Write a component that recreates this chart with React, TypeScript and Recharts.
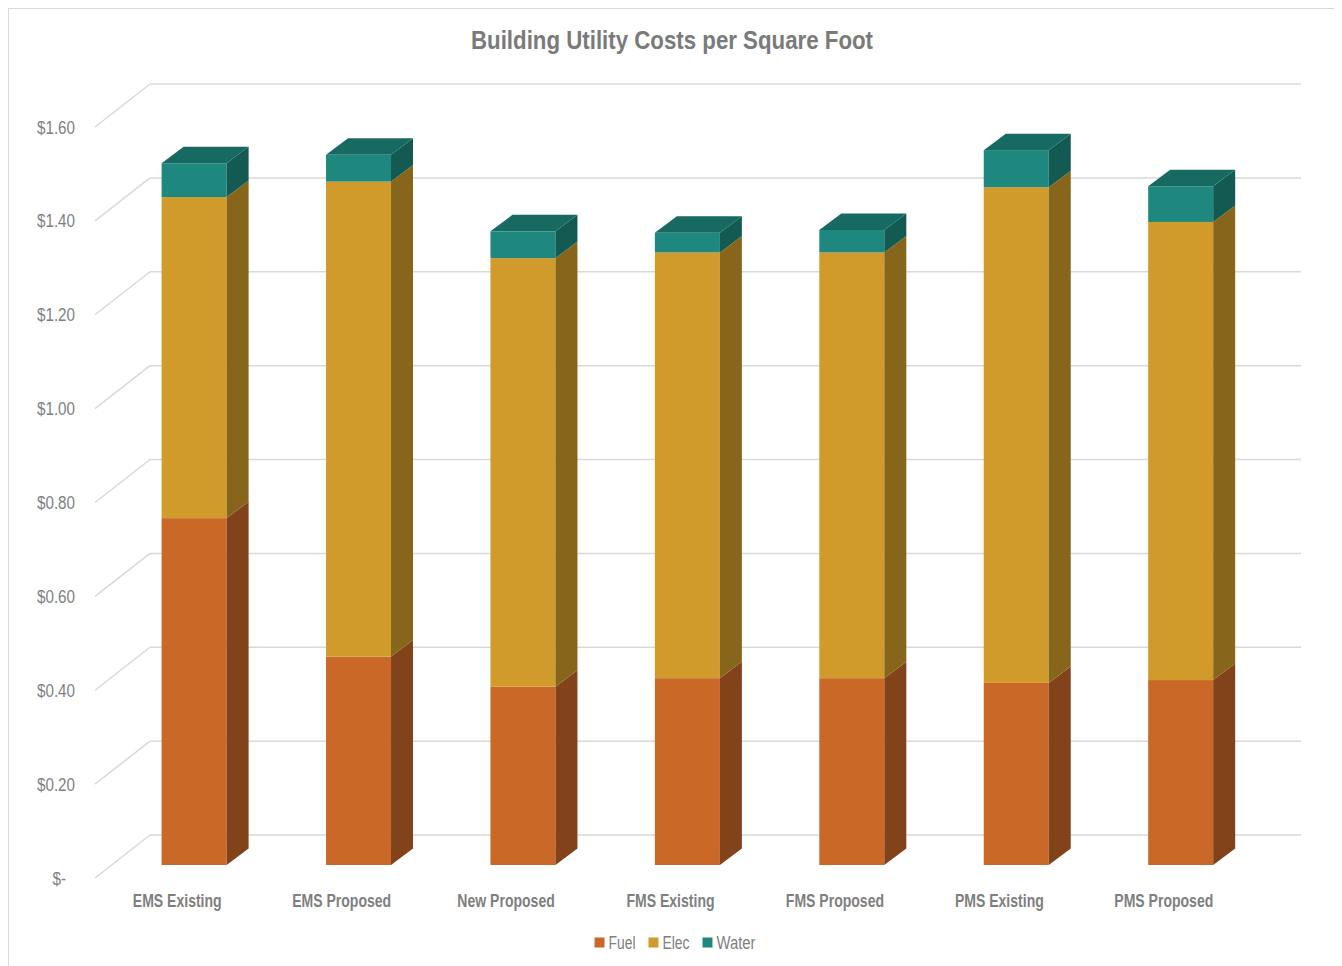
import React from "react";
import { BarChart, Bar, XAxis, YAxis, CartesianGrid, Legend } from "recharts";

const categories = ["EMS Existing", "EMS Proposed", "New Proposed", "FMS Existing", "FMS Proposed", "PMS Existing", "PMS Proposed"];
const fuel = [0.739, 0.444, 0.38, 0.398, 0.398, 0.388, 0.394];
const elec = [0.684, 1.012, 0.913, 0.907, 0.907, 1.056, 0.976];
const water = [0.072, 0.057, 0.057, 0.042, 0.048, 0.079, 0.076];
const yTicks = [0, 0.2, 0.4, 0.6, 0.8, 1.0, 1.2, 1.4, 1.6];
const seriesNames = ["Fuel", "Elec", "Water"];

const data = categories.map((name, i) => ({ name, Fuel: fuel[i], Elec: elec[i], Water: water[i] }));

const FONT = "'Liberation Sans', Arial, sans-serif";
const GRAY = "#7f7f7f";
const NARROW = 0.8; // squeeze Liberation Sans into an Arial Narrow look

// oblique projection offsets
const WALL_DX = 55;
const WALL_DY = -43;
const FRONT_DX = 16.6;
const FRONT_DY = -13;
const SIDE_DX = 22;
const SIDE_DY = -16.5;

const colors: Record<string, { front: string; side: string; top: string }> = {
  Fuel: { front: "#ca6828", side: "#82421a", top: "#a85520" },
  Elec: { front: "#d09b2a", side: "#87661b", top: "#a57b20" },
  Water: { front: "#1e887e", side: "#125a52", top: "#176a61" },
};

const makeShape = (key: string, withTop: boolean) => (props: any) => {
  const { x, y, width, height } = props;
  if (!height || height <= 0) return <g />;
  const c = colors[key];
  const fx = x + FRONT_DX;
  const fy = y + FRONT_DY;
  const r = fx + width;
  const side = `${r},${fy} ${r + SIDE_DX},${fy + SIDE_DY} ${r + SIDE_DX},${fy + height + SIDE_DY} ${r},${fy + height}`;
  const top = `${fx},${fy} ${fx + SIDE_DX},${fy + SIDE_DY} ${r + SIDE_DX},${fy + SIDE_DY} ${r},${fy}`;
  return (
    <g>
      <rect x={fx} y={fy} width={width} height={height} fill={c.front} />
      <polygon points={side} fill={c.side} />
      {withTop && <polygon points={top} fill={c.top} />}
    </g>
  );
};

const gridLine = (props: any) => {
  const { x1, y1, x2, index } = props;
  return (
    <g key={`grid-${index}-${y1}`}>
      <line x1={x1} y1={y1} x2={x1 + WALL_DX} y2={y1 + WALL_DY} stroke="#d9d9d9" strokeWidth={1.5} />
      <line x1={x1 + WALL_DX} y1={y1 + WALL_DY} x2={x2 + WALL_DX} y2={y1 + WALL_DY} stroke="#d9d9d9" strokeWidth={1.5} />
    </g>
  );
};

const YTick = (props: any) => {
  const { x, y, payload } = props;
  const v = payload.value as number;
  const label = v === 0 ? "$-" : `$${v.toFixed(2)}`;
  const ax = v === 0 ? x - 9 : x;
  return (
    <text transform={`translate(${ax},${y + 6.5}) scale(${NARROW},1)`} textAnchor="end" fill={GRAY} fontSize={19} fontFamily={FONT}>
      {label}
    </text>
  );
};

const XTick = (props: any) => {
  const { x, y, payload } = props;
  return (
    <text transform={`translate(${x},${y + 13}) scale(${NARROW - 0.02},1)`} textAnchor="middle" fill={GRAY} fontSize={18} fontWeight="bold" fontFamily={FONT}>
      {payload.value}
    </text>
  );
};

const legendTextWidth: Record<string, number> = { Fuel: 27, Elec: 27, Water: 39 };

const LegendContent = () => {
  const widths = seriesNames.map((n) => 14 + legendTextWidth[n]);
  const total = widths.reduce((a, b) => a + b, 0) + 13 * (seriesNames.length - 1);
  let cx = 1326 / 2 + 3 - total / 2;
  return (
    <svg width={1326} height={29} style={{ display: "block" }}>
      {seriesNames.map((n, i) => {
        const x0 = cx;
        cx += widths[i] + 13;
        return (
          <g key={n}>
            <rect x={x0} y={9.5} width={10} height={10} fill={colors[n].front} />
            <text
              x={x0 + 14}
              y={21}
              fill={GRAY}
              fontSize={18}
              fontFamily={FONT}
              textLength={legendTextWidth[n]}
              lengthAdjust="spacingAndGlyphs"
            >
              {n}
            </text>
          </g>
        );
      })}
    </svg>
  );
};

export default function App() {
  return (
    <div style={{ position: "relative", width: 1326, height: 958, border: "1px solid #d9d9d9", background: "#fff", fontFamily: FONT }}>
      <svg width={1326} height={60} style={{ position: "absolute", top: 0, left: 0 }}>
        <text x={663} y={40} textAnchor="middle" fill="#7a7a7a" fontSize={26} fontWeight="bold" fontFamily={FONT} textLength={402} lengthAdjust="spacingAndGlyphs">
          Building Utility Costs per Square Foot
        </text>
      </svg>
      <BarChart width={1326} height={958} data={data} margin={{ top: 118, right: 89, left: 0, bottom: 10 }} barSize={65}>
        <CartesianGrid vertical={false} horizontal={gridLine} />
        <XAxis dataKey="name" axisLine={false} tickLine={false} tickSize={0} tickMargin={16} height={50} interval={0} tick={<XTick />} />
        <YAxis width={86} domain={[0, 1.6]} ticks={yTicks} axisLine={false} tickLine={false} tickSize={0} tickMargin={20} tick={<YTick />} />
        <Legend verticalAlign="bottom" wrapperStyle={{ height: 29 }} content={<LegendContent />} />
        <Bar dataKey="Fuel" stackId="a" fill={colors.Fuel.front} shape={makeShape("Fuel", false)} isAnimationActive={false} />
        <Bar dataKey="Elec" stackId="a" fill={colors.Elec.front} shape={makeShape("Elec", false)} isAnimationActive={false} />
        <Bar dataKey="Water" stackId="a" fill={colors.Water.front} shape={makeShape("Water", true)} isAnimationActive={false} />
      </BarChart>
    </div>
  );
}
